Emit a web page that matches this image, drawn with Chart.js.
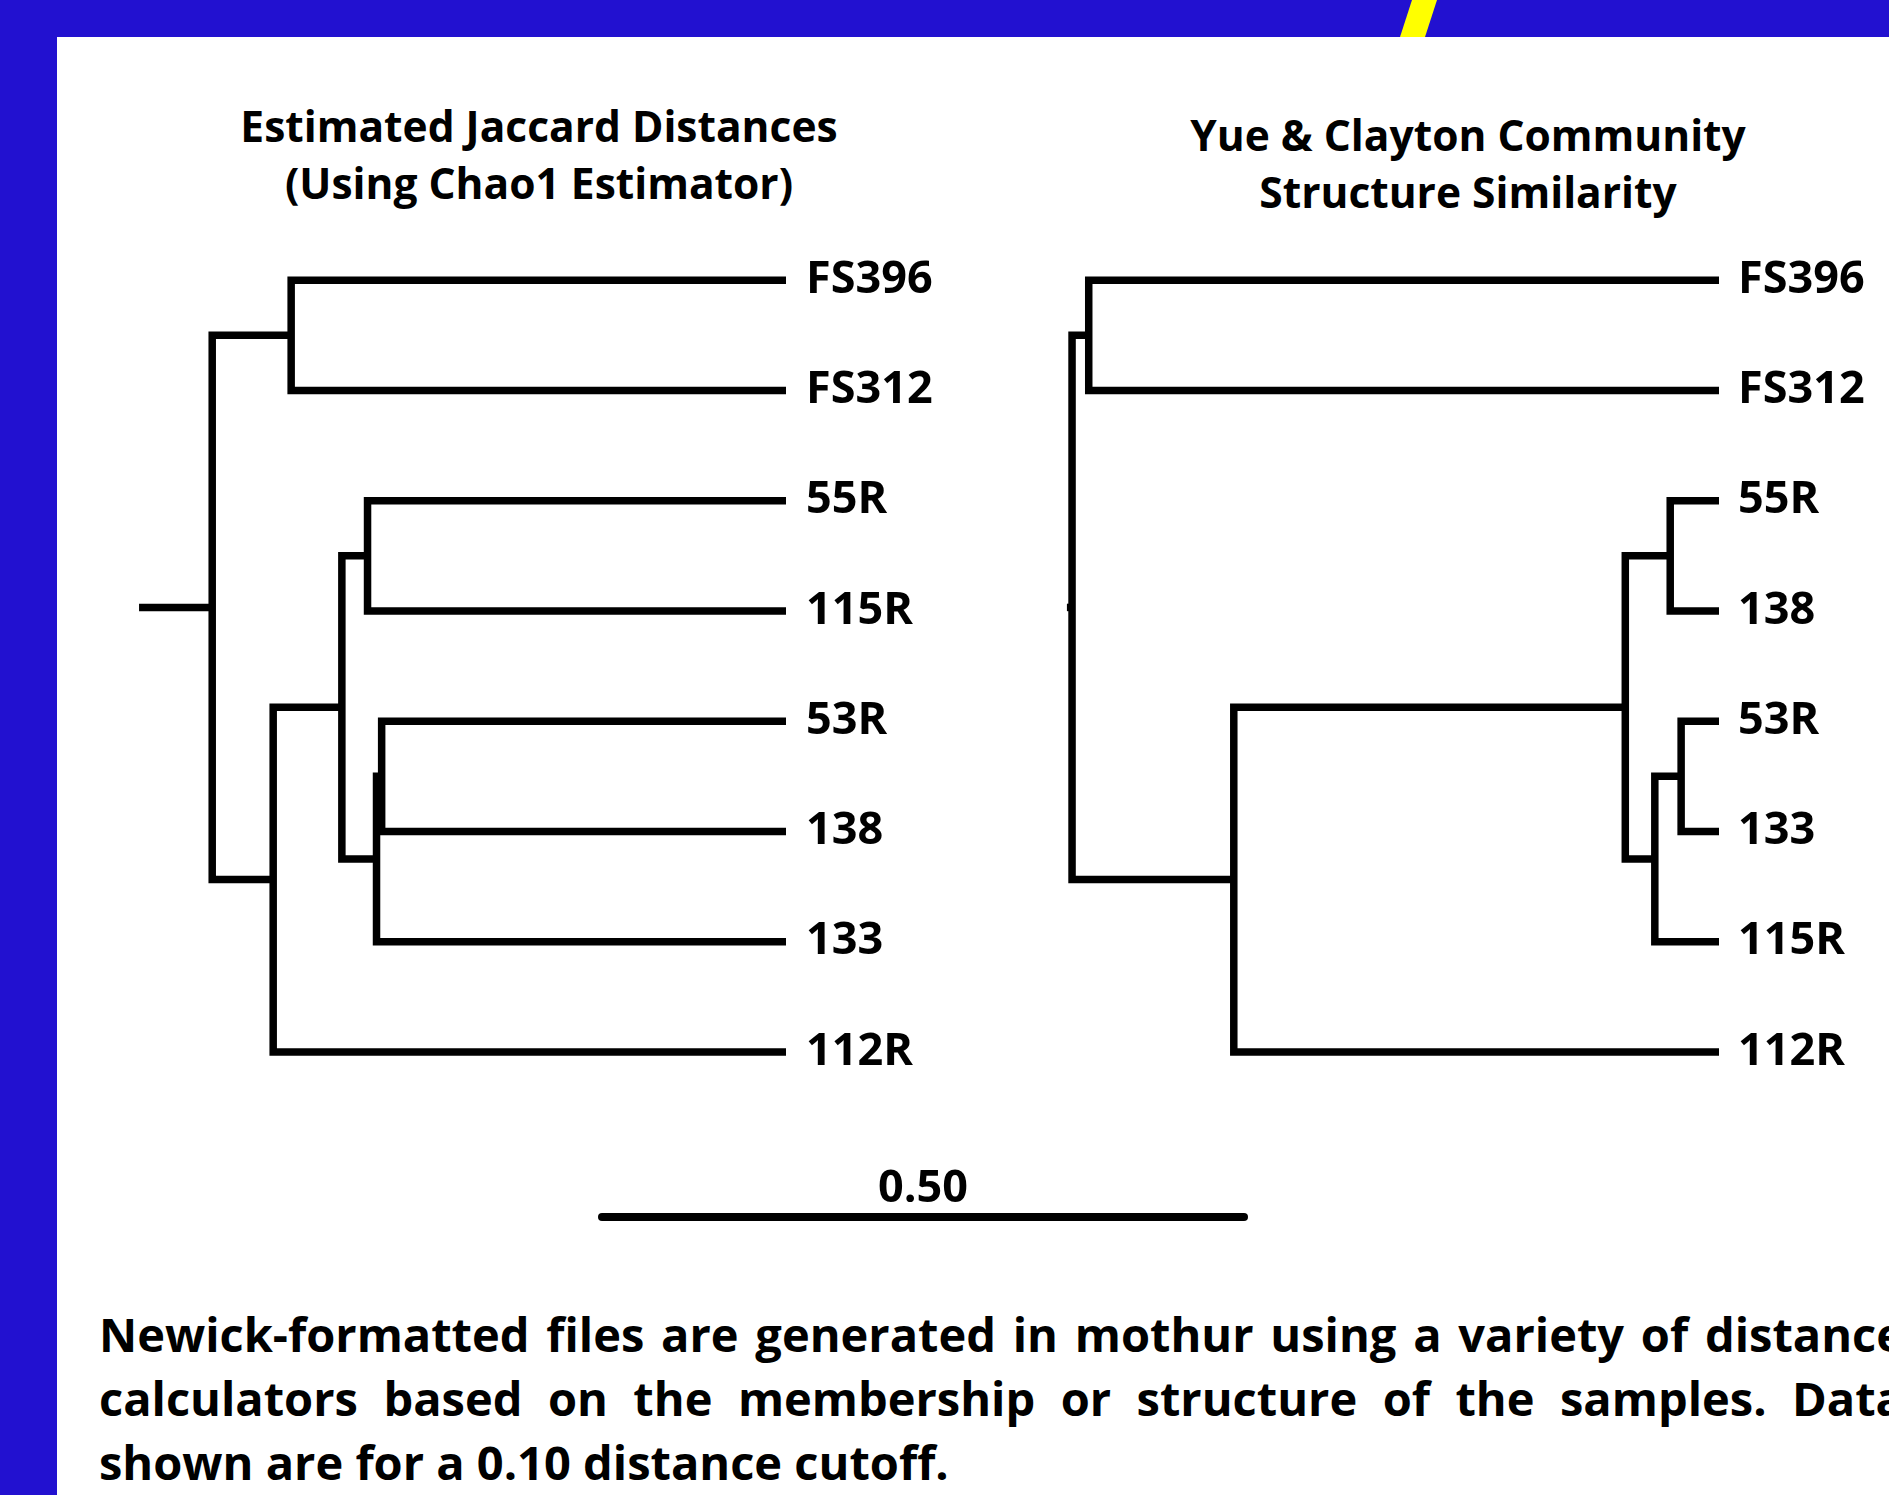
<!DOCTYPE html>
<html>
<head>
<meta charset="UTF-8">
<title>Newick trees from mothur</title>
<style>
html, body {margin:0; padding:0; width:1889px; height:1495px; overflow:hidden; background:#2211d0; font-family:"Open Sans", sans-serif; font-weight:bold; color:#000}
#page {position:absolute; left:57px; top:37px; right:0; bottom:0; background:#fff}
#stripe {position:absolute; left:1400px; top:0; width:37px; height:37px; background:#ffff00; clip-path:polygon(12px 0, 37px 0, 25px 37px, 0 37px)}
.title {position:absolute; width:700px; text-align:center; font-size:42.5px; line-height:56.5px}
canvas {position:absolute}
#caption {position:absolute; left:99px; top:1303px; width:1805px; font-size:47px; line-height:63.75px}
.just {text-align:justify; text-align-last:justify}
</style>
</head>
<body>
<div id="page"></div>
<div id="stripe"></div>

<div class="title" style="left:189px; top:98px">Estimated Jaccard Distances<br>(Using Chao1 Estimator)</div>
<div class="title" style="left:1118px; top:107px">Yue &amp; Clayton Community<br>Structure Similarity</div>

<canvas id="leftTree" width="918" height="882" style="left:80px; top:225px"></canvas>
<canvas id="rightTree" width="886" height="882" style="left:1013px; top:225px"></canvas>
<canvas id="scaleBar" width="662" height="80" style="left:592px; top:1163px"></canvas>

<div id="caption">
  <div class="just">Newick-formatted files are generated in mothur using a variety of distance</div>
  <div class="just">calculators based on the membership or structure of the samples. Data</div>
  <div>shown are for a 0.10 distance cutoff.</div>
</div>

<script src="https://cdn.jsdelivr.net/npm/chart.js"></script>
<script>
// left tree: Jaccard (Chao1)
const leftLeaves  = ["FS396", "FS312", "55R", "115R", "53R", "138", "133", "112R"];
const leftNodes   = ["a", "b", "c", "d", "e", "f", "root"];
const leftChildA  = ["53R", "a", "55R", "c", "d", "FS396", "f"];
const leftChildB  = ["138", "133", "115R", "b", "112R", "FS312", "e"];
const leftHeights = [0.315, 0.319, 0.326, 0.346, 0.3995, 0.3855, 0.447];
const leftRootTip = 0.504;

// right tree: Yue & Clayton
const rightLeaves  = ["FS396", "FS312", "55R", "138", "53R", "133", "115R", "112R"];
const rightNodes   = ["a", "b", "c", "d", "e", "f", "root"];
const rightChildA  = ["55R", "53R", "b", "a", "d", "FS396", "f"];
const rightChildB  = ["138", "133", "115R", "c", "112R", "FS312", "e"];
const rightHeights = [0.038, 0.0295, 0.050, 0.073, 0.378, 0.491, 0.504];
const rightRootTip = 0.508;

const scaleBar = [0, 0.5];
const scaleLabel = "0.50";

const FONT = "'Open Sans', sans-serif";

function branch(points) {
  return {
    data: points,
    showLine: true,
    borderColor: '#000',
    borderWidth: 7.5,
    borderCapStyle: 'butt',
    borderJoinStyle: 'miter',
    pointRadius: 0,
    clip: false
  };
}

function treeDatasets(leaves, nodes, childA, childB, heights, rootTip) {
  const pos = {}, h = {};
  leaves.forEach((n, i) => { pos[n] = i; h[n] = 0; });
  const sets = [];
  nodes.forEach((n, k) => {
    const a = childA[k], b = childB[k];
    pos[n] = (pos[a] + pos[b]) / 2;
    h[n] = heights[k];
    sets.push(branch([
      {x: h[a], y: pos[a]}, {x: h[n], y: pos[a]},
      {x: h[n], y: pos[b]}, {x: h[b], y: pos[b]}
    ]));
  });
  const root = nodes[nodes.length - 1];
  sets.push(branch([{x: rootTip, y: pos[root]}, {x: h[root], y: pos[root]}]));
  return sets;
}

function drawTree(id, leaves, datasets, labelWidth, gap) {
  new Chart(document.getElementById(id), {
    type: 'scatter',
    data: {datasets: datasets},
    options: {
      responsive: false,
      animation: false,
      events: [],
      layout: {padding: 0},
      plugins: {legend: {display: false}, tooltip: {enabled: false}},
      scales: {
        x: {type: 'linear', reverse: true, min: 0, max: 0.55, display: false},
        y: {
          type: 'linear', reverse: true, min: -0.5, max: leaves.length - 0.5,
          position: 'right',
          grid: {display: false, drawTicks: false},
          border: {display: false},
          afterBuildTicks: s => { s.ticks = leaves.map((_, i) => ({value: i})); },
          afterFit: s => { s.width = labelWidth; s.paddingTop = 0; s.paddingBottom = 0; },
          ticks: {
            autoSkip: false,
            padding: gap,
            color: '#000',
            font: {family: FONT, weight: 'bold', size: 45},
            callback: v => leaves[v]
          }
        }
      }
    }
  });
}

drawTree('leftTree', leftLeaves,
  treeDatasets(leftLeaves, leftNodes, leftChildA, leftChildB, leftHeights, leftRootTip), 212, 20);
drawTree('rightTree', rightLeaves,
  treeDatasets(rightLeaves, rightNodes, rightChildA, rightChildB, rightHeights, rightRootTip), 180, 19);

// scale bar
new Chart(document.getElementById('scaleBar'), {
  type: 'scatter',
  data: {
    datasets: [{
      data: scaleBar.map(v => ({x: v, y: 0})),
      showLine: true,
      borderColor: '#000',
      borderWidth: 8,
      borderCapStyle: 'round',
      pointRadius: 0,
      clip: false
    }]
  },
  options: {
    responsive: false,
    animation: false,
    events: [],
    layout: {padding: {left: 10, right: 10, top: 0, bottom: 21}},
    plugins: {legend: {display: false}, tooltip: {enabled: false}},
    scales: {
      x: {
        type: 'linear', min: scaleBar[0], max: scaleBar[1], position: 'top',
        grid: {display: false, drawTicks: false},
        border: {display: false},
        ticks: {display: false},
        title: {
          display: true, text: scaleLabel, color: '#000', padding: {top: 4, bottom: 0},
          font: {family: FONT, weight: 'bold', size: 45, lineHeight: 1}
        }
      },
      y: {type: 'linear', min: -1, max: 1, display: false}
    }
  }
});
</script>
</body>
</html>
